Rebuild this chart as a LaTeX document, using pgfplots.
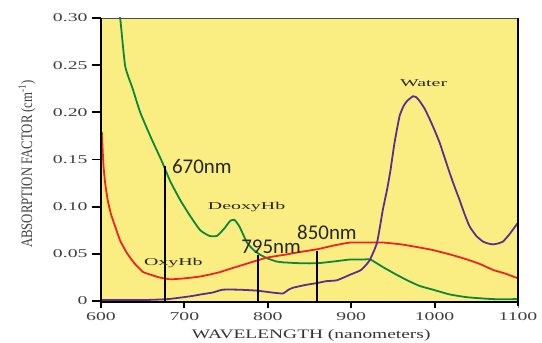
\documentclass[border=0pt]{standalone}
\usepackage{fontspec}
\usepackage{pgfplots}
\pgfplotsset{compat=1.18}
\setmainfont{Liberation Serif}
\newfontfamily\tickfont{Liberation Serif}[FakeStretch=1.65]
\newfontfamily\lblfont{Liberation Serif}[FakeStretch=1.9]
\newfontfamily\xlabfont{Liberation Serif}[FakeStretch=1.5]
\newfontfamily\ylabfont{Liberation Serif}[FakeStretch=0.8]
\newfontfamily\calib{Carlito}
\newcommand{\tl}[1]{\mbox{\tickfont\fontsize{12}{12}\selectfont\color{black!75}#1}}
\definecolor{bgyellow}{RGB}{250,238,130}
\definecolor{cgreen}{RGB}{10,135,60}
\definecolor{cred}{RGB}{240,35,35}
\definecolor{cpurple}{RGB}{90,45,145}
\begin{document}
\begin{tikzpicture}
\useasboundingbox (-101bp,-42bp) rectangle (441bp,301bp);
\begin{axis}[
  at={(0,0)}, anchor=south west,
  scale only axis, width=417bp, height=283bp,
  xmin=600, xmax=1100, ymin=0, ymax=0.30,
  axis background/.style={fill=bgyellow},
  axis x line*=bottom, axis y line*=left,
  axis line style={draw=none},
  xtick={600,700,800,900,1000,1100},
  ytick={0,0.05,0.10,0.15,0.20,0.25,0.30},
  yticklabels={\tl{0},\tl{0.05},\tl{0.10},\tl{0.15},\tl{0.20},\tl{0.25},\tl{0.30}},
  xticklabels={\tl{600},\tl{700},\tl{800},\tl{900},\tl{1000},\tl{1100}},
  xtick align=outside, ytick align=outside,
  major tick length=7bp,
  xticklabel style={yshift=-1bp},
  yticklabel style={xshift=-3bp},
  xlabel={WAVELENGTH (nanometers)},
  ylabel={ABSORPTION FACTOR (cm\textsuperscript{-1})},
  xlabel style={at={(axis description cs:0.504,-0.12)}, anchor=center, font=\xlabfont\fontsize{13}{13}\selectfont, text=black!80},
  ylabel style={at={(axis description cs:-0.1775,0.484)}, anchor=center, font=\ylabfont\fontsize{16}{16}\selectfont, text=black!75},
  clip=true,
]
\addplot[cgreen, line width=1.8pt, smooth, tension=0.3] coordinates {
(621,0.305)(623,0.30)(629,0.249)(638,0.225)(647,0.20)(660,0.173)(672,0.15)(683,0.127)(695,0.107)(707,0.09)(719,0.075)(730,0.069)(739,0.069)(748,0.077)(755,0.085)(760,0.086)(766,0.079)(775,0.062)(783,0.054)(791,0.049)(800,0.045)(810,0.042)(818,0.041)(840,0.040)(859,0.040)(880,0.042)(899,0.044)(915,0.044)(923,0.044)(938,0.036)(952,0.029)(967,0.022)(982,0.016)(998,0.012)(1018,0.007)(1039,0.004)(1070,0.002)(1100,0.002)};
\addplot[cred, line width=1.8pt, smooth, tension=0.3] coordinates {
(601,0.179)(602,0.16)(603,0.143)(605,0.125)(608,0.107)(612,0.092)(617,0.079)(623,0.064)(631,0.051)(640,0.040)(650,0.031)(659,0.028)(670,0.025)(683,0.023)(700,0.024)(719,0.026)(740,0.030)(758,0.035)(780,0.041)(799,0.046)(820,0.049)(839,0.052)(860,0.055)(880,0.059)(899,0.062)(920,0.062)(938,0.062)(960,0.060)(980,0.057)(998,0.054)(1020,0.049)(1039,0.044)(1055,0.039)(1070,0.033)(1085,0.029)(1100,0.024)};
\addplot[cpurple, line width=1.8pt, smooth, tension=0.3] coordinates {
(600,0.001)(650,0.001)(680,0.002)(707,0.005)(720,0.007)(734,0.009)(746,0.012)(765,0.012)(787,0.011)(805,0.009)(818,0.008)(825,0.012)(830,0.014)(845,0.017)(859,0.019)(870,0.021)(883,0.022)(899,0.028)(912,0.033)(922,0.043)(931,0.062)(938,0.097)(943,0.118)(947,0.138)(952,0.168)(958,0.196)(963,0.207)(967,0.212)(974,0.217)(978,0.216)(982,0.212)(988,0.204)(994,0.193)(1000,0.181)(1006,0.168)(1012,0.152)(1018,0.136)(1024,0.121)(1030,0.107)(1036,0.092)(1042,0.079)(1050,0.069)(1058,0.063)(1064,0.061)(1070,0.060)(1076,0.061)(1082,0.063)(1090,0.071)(1100,0.083)};
\addplot[black, line width=1.6pt] coordinates {(677,0) (677,0.143)};
\addplot[black, line width=1.6pt] coordinates {(788,0) (788,0.049)};
\addplot[black, line width=1.6pt] coordinates {(859,0) (859,0.053)};
\node[anchor=west, font=\calib\fontsize{21}{21}\selectfont, text=black!85, inner sep=0pt] at (axis cs:685,0.143) {670nm};
\node[anchor=west, font=\calib\fontsize{21}{21}\selectfont, text=black!85, inner sep=0pt] at (axis cs:768,0.057) {795nm};
\node[anchor=west, font=\calib\fontsize{21}{21}\selectfont, text=black!85, inner sep=0pt] at (axis cs:835,0.073) {850nm};
\node[anchor=west, font=\lblfont\fontsize{10.5}{10.5}\selectfont, text=black!85, inner sep=0pt] at (axis cs:728,0.100) {DeoxyHb};
\node[anchor=east, font=\lblfont\fontsize{10.5}{10.5}\selectfont, text=black!85, inner sep=0pt] at (axis cs:722,0.040) {OxyHb};
\node[anchor=west, font=\lblfont\fontsize{10.5}{10.5}\selectfont, text=black!85, inner sep=0pt] at (axis cs:958.5,0.231) {Water};
\end{axis}
% axis frame
\draw[black!70, line width=0.8pt] (0bp,283bp) -- (417bp,283bp);
\draw[black, line width=2.4pt] (417bp,-5bp) -- (417bp,283.4bp);
\draw[black, line width=2.4pt] (0bp,283bp) -- (0bp,-1.2bp) -- (418bp,-1.2bp);
% ticks
\foreach \x in {0,83.4,166.8,250.2,333.6} \draw[black, line width=2.2pt] (\x bp,0bp) -- (\x bp,-7bp);
\foreach \y in {0,47.17,94.33,141.5,188.67,235.83,283} \draw[black, line width=2pt] (0bp,\y bp) -- (-9bp,\y bp);
\end{tikzpicture}
\end{document}
